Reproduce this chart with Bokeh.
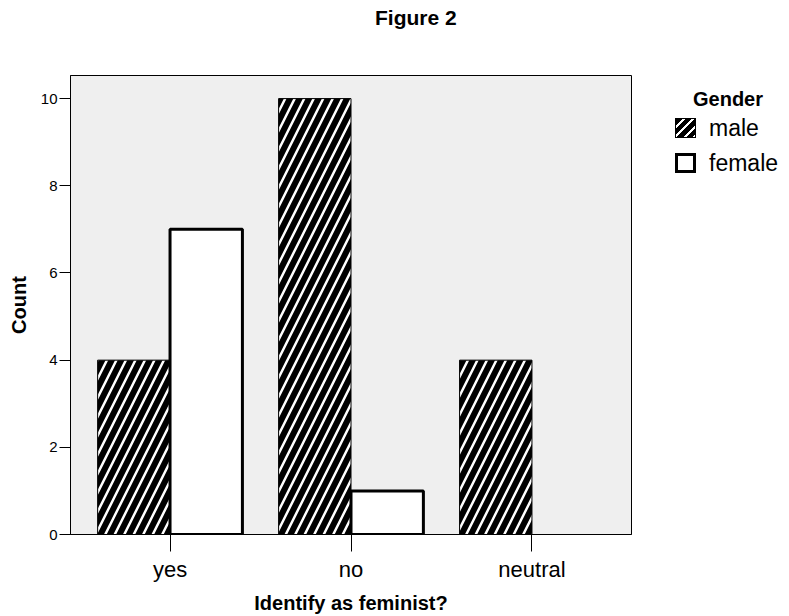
from bokeh.plotting import figure
from bokeh.models import ColumnDataSource, FactorRange, Range1d, FixedTicker, Div
from bokeh.layouts import column, row
from bokeh.transform import dodge
from bokeh.embed import file_html
from bokeh.resources import INLINE

# ---- data ----
categories = ["yes", "no", "neutral"]
male_counts = [4, 10, 4]
female_counts = [7, 1, 0]
y_ticks = [0, 2, 4, 6, 8, 10]
series_names = ["male", "female"]
legend_title = "Gender"
chart_title = "Figure 2"

FONT = "Liberation Sans"
TITLE_H = 30
PLOT_W = 633
LEG_W = 789 - PLOT_W

source = ColumnDataSource(dict(
    cat=categories,
    male=male_counts,
    female=female_counts,
    female_line_alpha=[1.0 if v > 0 else 0.0 for v in female_counts],
))

title_div = Div(
    text=('<div style="margin-left:375px;margin-top:7px;font-family:\'Liberation Sans\';'
          'font-size:21px;font-weight:bold;line-height:21px;color:black;white-space:nowrap">'
          + chart_title + '</div>'),
    width=789, height=TITLE_H, margin=0,
)

p = figure(
    width=PLOT_W, height=616 - TITLE_H,
    x_range=FactorRange(*categories, range_padding=0.1 / 3),
    y_range=Range1d(0, 10.53),
    output_backend="svg", toolbar_location=None,
    min_border_left=70, min_border_right=2, min_border_top=75 - TITLE_H,
    min_border_bottom=82,
)

p.background_fill_color = "#efefef"
p.border_fill_color = "white"
p.outline_line_color = "black"
p.outline_line_width = 1
p.xgrid.visible = False
p.ygrid.visible = False

male_r = p.vbar(x=dodge("cat", -0.2, range=p.x_range), top="male", width=0.4, source=source,
                fill_color="black", hatch_pattern="right_diagonal_line", hatch_color="white",
                hatch_scale=19, hatch_weight=2.5, line_color="black", line_width=1)
female_r = p.vbar(x=dodge("cat", 0.2, range=p.x_range), top="female", width=0.4, source=source,
                  fill_color="white", line_color="black", line_width=3,
                  line_alpha="female_line_alpha")

# axes
xax = p.below[0]
yax = p.left[0]
xax.axis_label = "Identify as feminist?"
yax.axis_label = "Count"
for ax in (xax, yax):
    ax.axis_label_text_font = FONT
    ax.axis_label_text_font_size = "20px"
    ax.axis_label_text_font_style = "bold"
    ax.axis_label_text_color = "black"
    ax.major_label_text_font = FONT
    ax.major_label_text_color = "black"
    ax.axis_line_color = "black"
    ax.major_tick_line_color = "black"
    ax.major_tick_in = 0
    ax.minor_tick_line_color = None

xax.major_label_text_font_size = "22px"
xax.major_tick_out = 17
xax.major_label_standoff = 5
xax.axis_label_standoff = 7

yax.ticker = FixedTicker(ticks=y_ticks)
yax.major_label_text_font_size = "15px"
yax.major_tick_out = 11
yax.major_label_standoff = 2
yax.axis_label_standoff = 8

# legend (HTML, placed to the right of the plot)
male_swatch = ('<div style="width:21px;height:20px;box-sizing:border-box;border:1px solid black;'
               'background:repeating-linear-gradient(135deg,black 0px,black 4.5px,'
               'white 4.5px,white 6.7px);flex:none"></div>')
female_swatch = ('<div style="width:21px;height:20px;box-sizing:border-box;border:3px solid black;'
                 'background:white;flex:none"></div>')
label_style = "margin-left:13px;font-size:23px;line-height:20px;color:black"
legend_html = (
    '<div style="font-family:\'Liberation Sans\';color:black;white-space:nowrap">'
    '<div style="margin-left:60px;padding-top:59px;font-size:20px;font-weight:bold;line-height:20px">'
    + legend_title + '</div>'
    '<div style="display:flex;align-items:center;margin-left:42px;margin-top:9px;height:20px">'
    + male_swatch + '<span style="' + label_style + '">' + series_names[0] + '</span></div>'
    '<div style="display:flex;align-items:center;margin-left:42px;margin-top:15px;height:20px">'
    + female_swatch + '<span style="' + label_style + '">' + series_names[1] + '</span></div>'
    '</div>'
)
legend_div = Div(text=legend_html, width=LEG_W, height=616 - TITLE_H, margin=0)

layout = column(title_div, row(p, legend_div, spacing=0), spacing=0)
open("out.html", "w").write(file_html(layout, INLINE))
